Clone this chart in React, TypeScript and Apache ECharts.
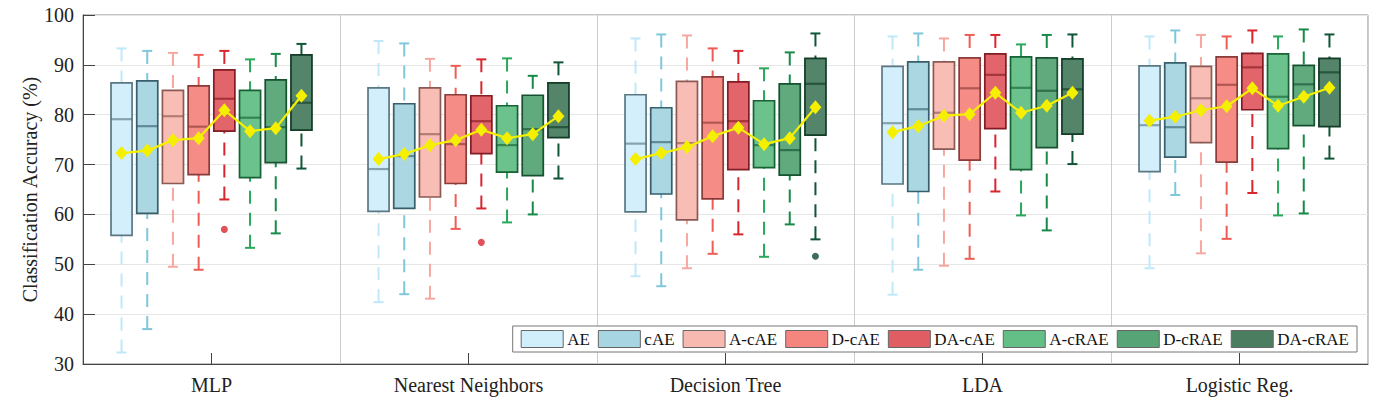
import React, { useEffect, useRef } from "react";
import * as echarts from "echarts";

const classifiers = ["MLP", "Nearest Neighbors", "Decision Tree", "LDA", "Logistic Reg."];
const methods = ["AE", "cAE", "A-cAE", "D-cAE", "DA-cAE", "A-cRAE", "D-cRAE", "DA-cRAE"];

// [lower whisker, Q1, median, Q3, upper whisker] for each classifier
const boxAE = [[32.3, 55.8, 79.1, 86.4, 93.3], [42.4, 60.6, 69.1, 85.4, 94.8], [47.6, 60.5, 74.2, 84.0, 95.3], [43.9, 66.1, 78.3, 89.7, 95.7], [49.2, 68.6, 77.9, 89.8, 95.7]];
const boxCAE = [[37.0, 60.2, 77.7, 86.8, 92.8], [44.0, 61.2, 71.7, 82.2, 94.3], [45.6, 64.1, 74.5, 81.4, 96.1], [48.9, 64.6, 81.1, 90.6, 96.3], [63.9, 71.5, 77.5, 90.4, 96.9]];
const boxACAE = [[49.5, 66.2, 79.7, 84.9, 92.4], [43.1, 63.5, 76.1, 85.4, 91.2], [49.2, 58.9, 74.3, 86.7, 95.9], [49.7, 73.1, 80.4, 90.6, 95.3], [52.2, 74.4, 83.3, 89.7, 96.0]];
const boxDCAE = [[48.9, 68.0, 77.6, 85.8, 92.0], [57.1, 66.2, 74.1, 84.0, 89.8], [52.1, 63.1, 78.4, 87.6, 93.3], [51.1, 70.9, 85.3, 91.4, 96.0], [55.1, 70.5, 86.0, 91.6, 95.7]];
const boxDACAE = [[63.0, 76.7, 83.2, 89.0, 92.8], [61.2, 72.2, 78.7, 83.8, 91.1], [56.0, 69.0, 78.7, 86.6, 92.8], [64.6, 77.2, 88.0, 92.2, 96.0], [64.3, 81.0, 89.5, 92.3, 96.9]];
const boxACRAE = [[53.3, 67.4, 79.4, 84.9, 91.1], [58.4, 68.5, 73.9, 81.8, 91.3], [51.5, 69.4, 73.9, 82.8, 89.3], [59.8, 69.0, 85.4, 91.6, 94.1], [59.8, 73.2, 83.6, 92.2, 95.7]];
const boxDCRAE = [[56.2, 70.4, 77.5, 87.0, 92.2], [60.0, 67.8, 77.1, 83.9, 87.8], [58.0, 67.9, 72.9, 86.2, 92.5], [56.8, 73.4, 84.8, 91.4, 96.0], [60.2, 77.8, 86.1, 89.9, 97.1]];
const boxDACRAE = [[69.2, 76.9, 82.4, 92.0, 94.2], [67.2, 75.4, 77.5, 86.4, 90.5], [55.0, 75.9, 86.2, 91.3, 96.3], [70.1, 76.1, 85.1, 91.2, 96.1], [71.2, 77.6, 88.5, 91.3, 96.1]];

// mean accuracy (yellow diamonds) for each classifier
const meanAE = [72.3, 71.1, 71.1, 76.5, 78.8];
const meanCAE = [72.8, 72.1, 72.3, 77.7, 79.6];
const meanACAE = [74.9, 73.9, 73.5, 79.8, 80.9];
const meanDCAE = [75.3, 74.9, 75.7, 80.1, 81.7];
const meanDACAE = [80.9, 77.0, 77.4, 84.4, 85.3];
const meanACRAE = [76.7, 75.3, 74.1, 80.4, 81.8];
const meanDCRAE = [77.3, 76.1, 75.3, 81.8, 83.6];
const meanDACRAE = [83.8, 79.7, 81.5, 84.4, 85.4];

// outliers: [classifier index, value]
const outlierDACAE = [[0, 57.0], [1, 54.4]];
const outlierDACRAE = [[2, 51.6]];

const boxes = [boxAE, boxCAE, boxACAE, boxDCAE, boxDACAE, boxACRAE, boxDCRAE, boxDACRAE];
const means = [meanAE, meanCAE, meanACAE, meanDCAE, meanDACAE, meanACRAE, meanDCRAE, meanDACRAE];
const outliers: number[][][] = [[], [], [], [], outlierDACAE, [], [], outlierDACRAE];

const fills = ["#d1eefb", "#a7d5e2", "#f8b9b1", "#f4867f", "#e15d64", "#63bf86", "#57a577", "#4b7d61"];
const edges = ["#52707c", "#2f5664", "#84524d", "#843431", "#7c141b", "#0f5b2d", "#0f4a28", "#0b3520"];
const whiskers = ["#bfe8f9", "#7fc7db", "#f6a8a0", "#ee5d55", "#d8262f", "#29a75b", "#178a48", "#105636"];
const outlierColors = ["#bfe8f9", "#7fc7db", "#f6a8a0", "#ee5d55", "#d8262f", "#29a75b", "#178a48", "#0d4a2e"];

const SERIF = "'Liberation Serif', 'Times New Roman', serif";
const SLOTS = 10;

export default function App() {
  const ref = useRef<HTMLDivElement>(null);
  useEffect(() => {
    const chart = echarts.init(ref.current!, null, { renderer: "svg" });
    const series: any[] = [];
    methods.forEach((m, i) => {
      series.push({
        type: "custom",
        name: m,
        xAxisIndex: 1,
        yAxisIndex: 0,
        itemStyle: { color: fills[i], borderColor: edges[i] },
        encode: { x: 0, y: [1, 2, 3, 4, 5] },
        data: boxes[i].map((b, g) => [g * SLOTS + i + 1.5, ...b]),
        renderItem: (params: any, api: any) => {
          const x = api.value(0);
          const pLow = api.coord([x, api.value(1)]);
          const pQ1 = api.coord([x, api.value(2)]);
          const pMed = api.coord([x, api.value(3)]);
          const pQ3 = api.coord([x, api.value(4)]);
          const pHigh = api.coord([x, api.value(5)]);
          const bw = api.size([1, 0])[0] * 0.82;
          const cx = pMed[0];
          const cap = 5;
          const ws = { stroke: whiskers[i], lineWidth: 2, lineDash: [13, 9] };
          const cs = { stroke: whiskers[i], lineWidth: 2 };
          return {
            type: "group",
            children: [
              { type: "line", shape: { x1: cx, y1: pHigh[1], x2: cx, y2: pQ3[1] }, style: ws },
              { type: "line", shape: { x1: cx, y1: pLow[1], x2: cx, y2: pQ1[1] }, style: ws },
              { type: "line", shape: { x1: cx - cap, y1: pHigh[1], x2: cx + cap, y2: pHigh[1] }, style: cs },
              { type: "line", shape: { x1: cx - cap, y1: pLow[1], x2: cx + cap, y2: pLow[1] }, style: cs },
              {
                type: "rect",
                shape: { x: cx - bw / 2, y: pQ3[1], width: bw, height: pQ1[1] - pQ3[1] },
                style: { fill: fills[i], stroke: edges[i], lineWidth: 1.7, opacity: 0.95 },
              },
              {
                type: "line",
                shape: { x1: cx - bw / 2, y1: pMed[1], x2: cx + bw / 2, y2: pMed[1] },
                style: { stroke: edges[i], lineWidth: 2.2, opacity: 0.6 },
              },
            ],
          };
        },
        z: 2,
      });
      if (outliers[i].length) {
        series.push({
          type: "scatter",
          name: m + " outliers",
          xAxisIndex: 1,
          yAxisIndex: 0,
          symbol: "circle",
          symbolSize: 7,
          itemStyle: { color: outlierColors[i] },
          data: outliers[i].map(([g, v]) => [g * SLOTS + i + 1.5, v]),
          z: 3,
        });
      }
    });
    classifiers.forEach((c, g) => {
      series.push({
        type: "line",
        name: c + " mean",
        xAxisIndex: 1,
        yAxisIndex: 0,
        symbol: "diamond",
        symbolSize: [12, 14],
        lineStyle: { color: "#f5ef00", width: 2.2 },
        itemStyle: { color: "#f5ef00" },
        data: methods.map((_, i) => [g * SLOTS + i + 1.5, means[i][g]]),
        z: 5,
      });
    });

    chart.setOption({
      animation: false,
      backgroundColor: "#ffffff",
      textStyle: { fontFamily: SERIF },
      grid: {
        left: 83,
        right: 18,
        top: 15,
        bottom: 43,
        show: true,
        borderColor: "#8a8a8a",
        borderWidth: 1,
      },
      legend: {
        data: methods.map((m, i) => ({
          name: m,
          icon: "rect",
          itemStyle: { color: fills[i], borderColor: "#666", borderWidth: 1 },
        })),
        right: 29,
        top: 326,
        orient: "horizontal",
        itemWidth: 42,
        itemHeight: 17,
        itemGap: 8,
        padding: [4, 8],
        backgroundColor: "#ffffff",
        borderColor: "#777",
        borderWidth: 1,
        selectedMode: false,
        textStyle: { fontFamily: SERIF, fontSize: 17, color: "#111", padding: [0, 0, 0, -1] },
        z: 10,
      },
      xAxis: [
        {
          type: "category",
          data: classifiers,
          boundaryGap: true,
          axisLine: { show: true, lineStyle: { color: "#444", width: 1 } },
          axisTick: { show: true, inside: true, alignWithLabel: true, length: 11, lineStyle: { color: "#444" } },
          axisLabel: { fontFamily: SERIF, fontSize: 20, color: "#222", margin: 11 },
          splitLine: { show: true, lineStyle: { color: "#cccccc", width: 1 } },
        },
        {
          type: "value",
          min: 0,
          max: classifiers.length * SLOTS,
          show: false,
          splitLine: { show: false },
        },
      ],
      yAxis: {
        type: "value",
        min: 30,
        max: 100,
        interval: 10,
        name: "Classification Accuracy (%)",
        nameLocation: "middle",
        nameGap: 43,
        nameMoveOverlap: false,
        nameTextStyle: { fontFamily: SERIF, fontSize: 20, color: "#222" },
        axisLine: { show: true, lineStyle: { color: "#444", width: 1 } },
        axisTick: { show: true, inside: true, length: 12, lineStyle: { color: "#444" } },
        axisLabel: { fontFamily: SERIF, fontSize: 20, color: "#222", margin: 9 },
        splitLine: { show: true, lineStyle: { color: "#e6e6e6", width: 1 } },
      },
      series,
    });
    return () => chart.dispose();
  }, []);
  return (
    <div
      ref={ref}
      style={{ position: "absolute", left: 0, top: 0, width: 1386, height: 407 }}
    />
  );
}
